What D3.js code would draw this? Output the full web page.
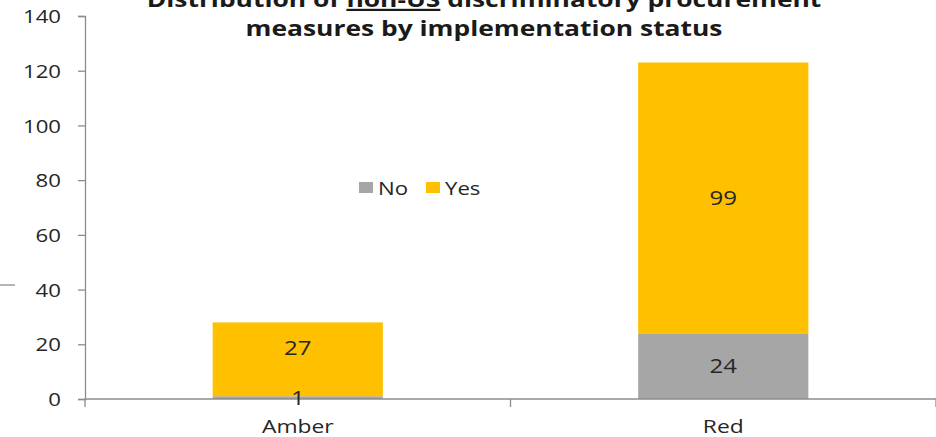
<!DOCTYPE html>
<html>
<head>
<meta charset="utf-8">
<script src="https://cdn.jsdelivr.net/npm/d3@7"></script>
<style>
  html, body { margin: 0; padding: 0; background: #fff; }
  svg { display: block; font-family: "Open Sans", "Noto Sans", sans-serif; }
</style>
</head>
<body>
<svg id="chart" width="936" height="437"></svg>
<script>
// Implementation status categories along the x axis
const categories = ["Amber", "Red"];
// Stacked series: measures not implemented (No) and implemented (Yes)
const seriesNames = ["No", "Yes"];
const noValues = [1, 24];
const yesValues = [27, 99];
const yTicks = [0, 20, 40, 60, 80, 100, 120, 140];
const colors = { No: "#a6a6a6", Yes: "#ffc000" };

// Text in this chart is drawn slightly wide
const SX = 1.2;
const textColor = "#262626";
const axisColor = "#8c8c8c";

const svg = d3.select("#chart");
const plot = { left: 85, right: 936, top: 16, bottom: 399 };

const x = d3.scaleBand().domain(categories).range([plot.left, plot.right]).paddingInner(0.6).paddingOuter(0.3);
const xOuter = d3.scaleBand().domain(categories).range([plot.left, plot.right]);
const y = d3.scaleLinear().domain([0, 140]).range([plot.bottom, plot.top]);

// Place a text at (px, py) widened by SX around its anchor
function placeText(sel, px, py) {
  return sel.attr("x", 0).attr("y", 0)
    .attr("transform", `translate(${px},${py}) scale(${SX},1)`);
}

const rows = categories.map((c, i) => ({ cat: c, No: noValues[i], Yes: yesValues[i] }));
const stacked = d3.stack().keys(seriesNames)(rows);

// Bars
stacked.forEach(layer => {
  svg.append("g").selectAll("rect").data(layer).join("rect")
    .attr("x", d => x(d.data.cat))
    .attr("width", x.bandwidth())
    .attr("y", d => y(d[1]))
    .attr("height", d => y(d[0]) - y(d[1]))
    .attr("fill", colors[layer.key]);
});

// Y axis
const yAxis = svg.append("g").attr("transform", `translate(${plot.left},0)`)
  .call(d3.axisLeft(y).tickValues(yTicks).tickSize(7));
yAxis.select(".domain").attr("stroke", axisColor).attr("stroke-width", 1.3);
yAxis.selectAll(".tick line").attr("stroke", axisColor).attr("stroke-width", 1.3);
yAxis.selectAll(".tick text")
  .attr("font-size", 18.5).attr("fill", textColor).attr("dy", "0.36em")
  .attr("font-family", "'Open Sans', sans-serif")
  .each(function () { placeText(d3.select(this), -24, 0); });

// X axis: baseline with tick marks between categories
const xg = svg.append("g").attr("transform", `translate(0,${plot.bottom})`);
xg.append("line").attr("x1", plot.left).attr("x2", plot.right)
  .attr("stroke", axisColor).attr("stroke-width", 1.3);
const bounds = categories.map(c => xOuter(c)).concat([plot.right]);
xg.selectAll("line.tk").data(bounds).join("line").attr("class", "tk")
  .attr("x1", d => d).attr("x2", d => d).attr("y1", 0).attr("y2", 8)
  .attr("stroke", axisColor).attr("stroke-width", 1.3);
xg.selectAll("text").data(categories).join("text")
  .attr("text-anchor", "middle")
  .attr("font-size", 19).attr("fill", textColor)
  .text(d => d)
  .each(function (d) { placeText(d3.select(this), x(d) + x.bandwidth() / 2, 34); });

// Value labels, centred in each segment and kept clear of the label below
const labels = [];
stacked.forEach(layer => {
  layer.forEach(d => {
    labels.push({ cat: d.data.cat, key: layer.key, v: d[1] - d[0], cy: y((d[0] + d[1]) / 2) });
  });
});
const minGap = 50;
categories.forEach(c => {
  let prev = null;
  labels.filter(l => l.cat === c).forEach(l => {
    if (prev !== null && prev - l.cy < minGap) l.cy = prev - minGap;
    prev = l.cy;
  });
});
svg.append("g").selectAll("text").data(labels).join("text")
  .attr("dy", "0.36em")
  .attr("text-anchor", "middle")
  .attr("font-size", 20).attr("fill", textColor)
  .text(d => d.v)
  .each(function (d) { placeText(d3.select(this), x(d.cat) + x.bandwidth() / 2, d.cy); });

// Legend
const legend = svg.append("g").attr("transform", "translate(359,188)");
const legendX = { No: 0, Yes: 67 };
seriesNames.forEach(k => {
  const g = legend.append("g").attr("transform", `translate(${legendX[k]},0)`);
  g.append("rect").attr("x", 0).attr("y", -6).attr("width", 14).attr("height", 11).attr("fill", colors[k]);
  placeText(g.append("text"), 19, 0)
    .attr("dy", "0.36em").attr("font-size", 18.5).attr("fill", textColor).text(k);
});

// Title (two lines, with "non-US" underlined)
const title = svg.append("g").attr("transform", `translate(484,0) scale(${SX},1)`)
  .append("text").attr("text-anchor", "middle")
  .attr("font-family", "'Open Sans', sans-serif")
  .attr("font-weight", "bold").attr("font-size", 22).attr("fill", "#1a1a1a");
const line1 = title.append("tspan").attr("x", 0).attr("y", 7);
line1.append("tspan").text("Distribution of ");
line1.append("tspan").attr("text-decoration", "underline").text("non-US");
line1.append("tspan").text(" discriminatory procurement");
title.append("tspan").attr("x", 0).attr("y", 36).text("measures by implementation status");

// Short rule at the left edge
svg.append("line").attr("x1", 0).attr("x2", 15).attr("y1", 285).attr("y2", 285)
  .attr("stroke", axisColor).attr("stroke-width", 1.3);
</script>
</body>
</html>
